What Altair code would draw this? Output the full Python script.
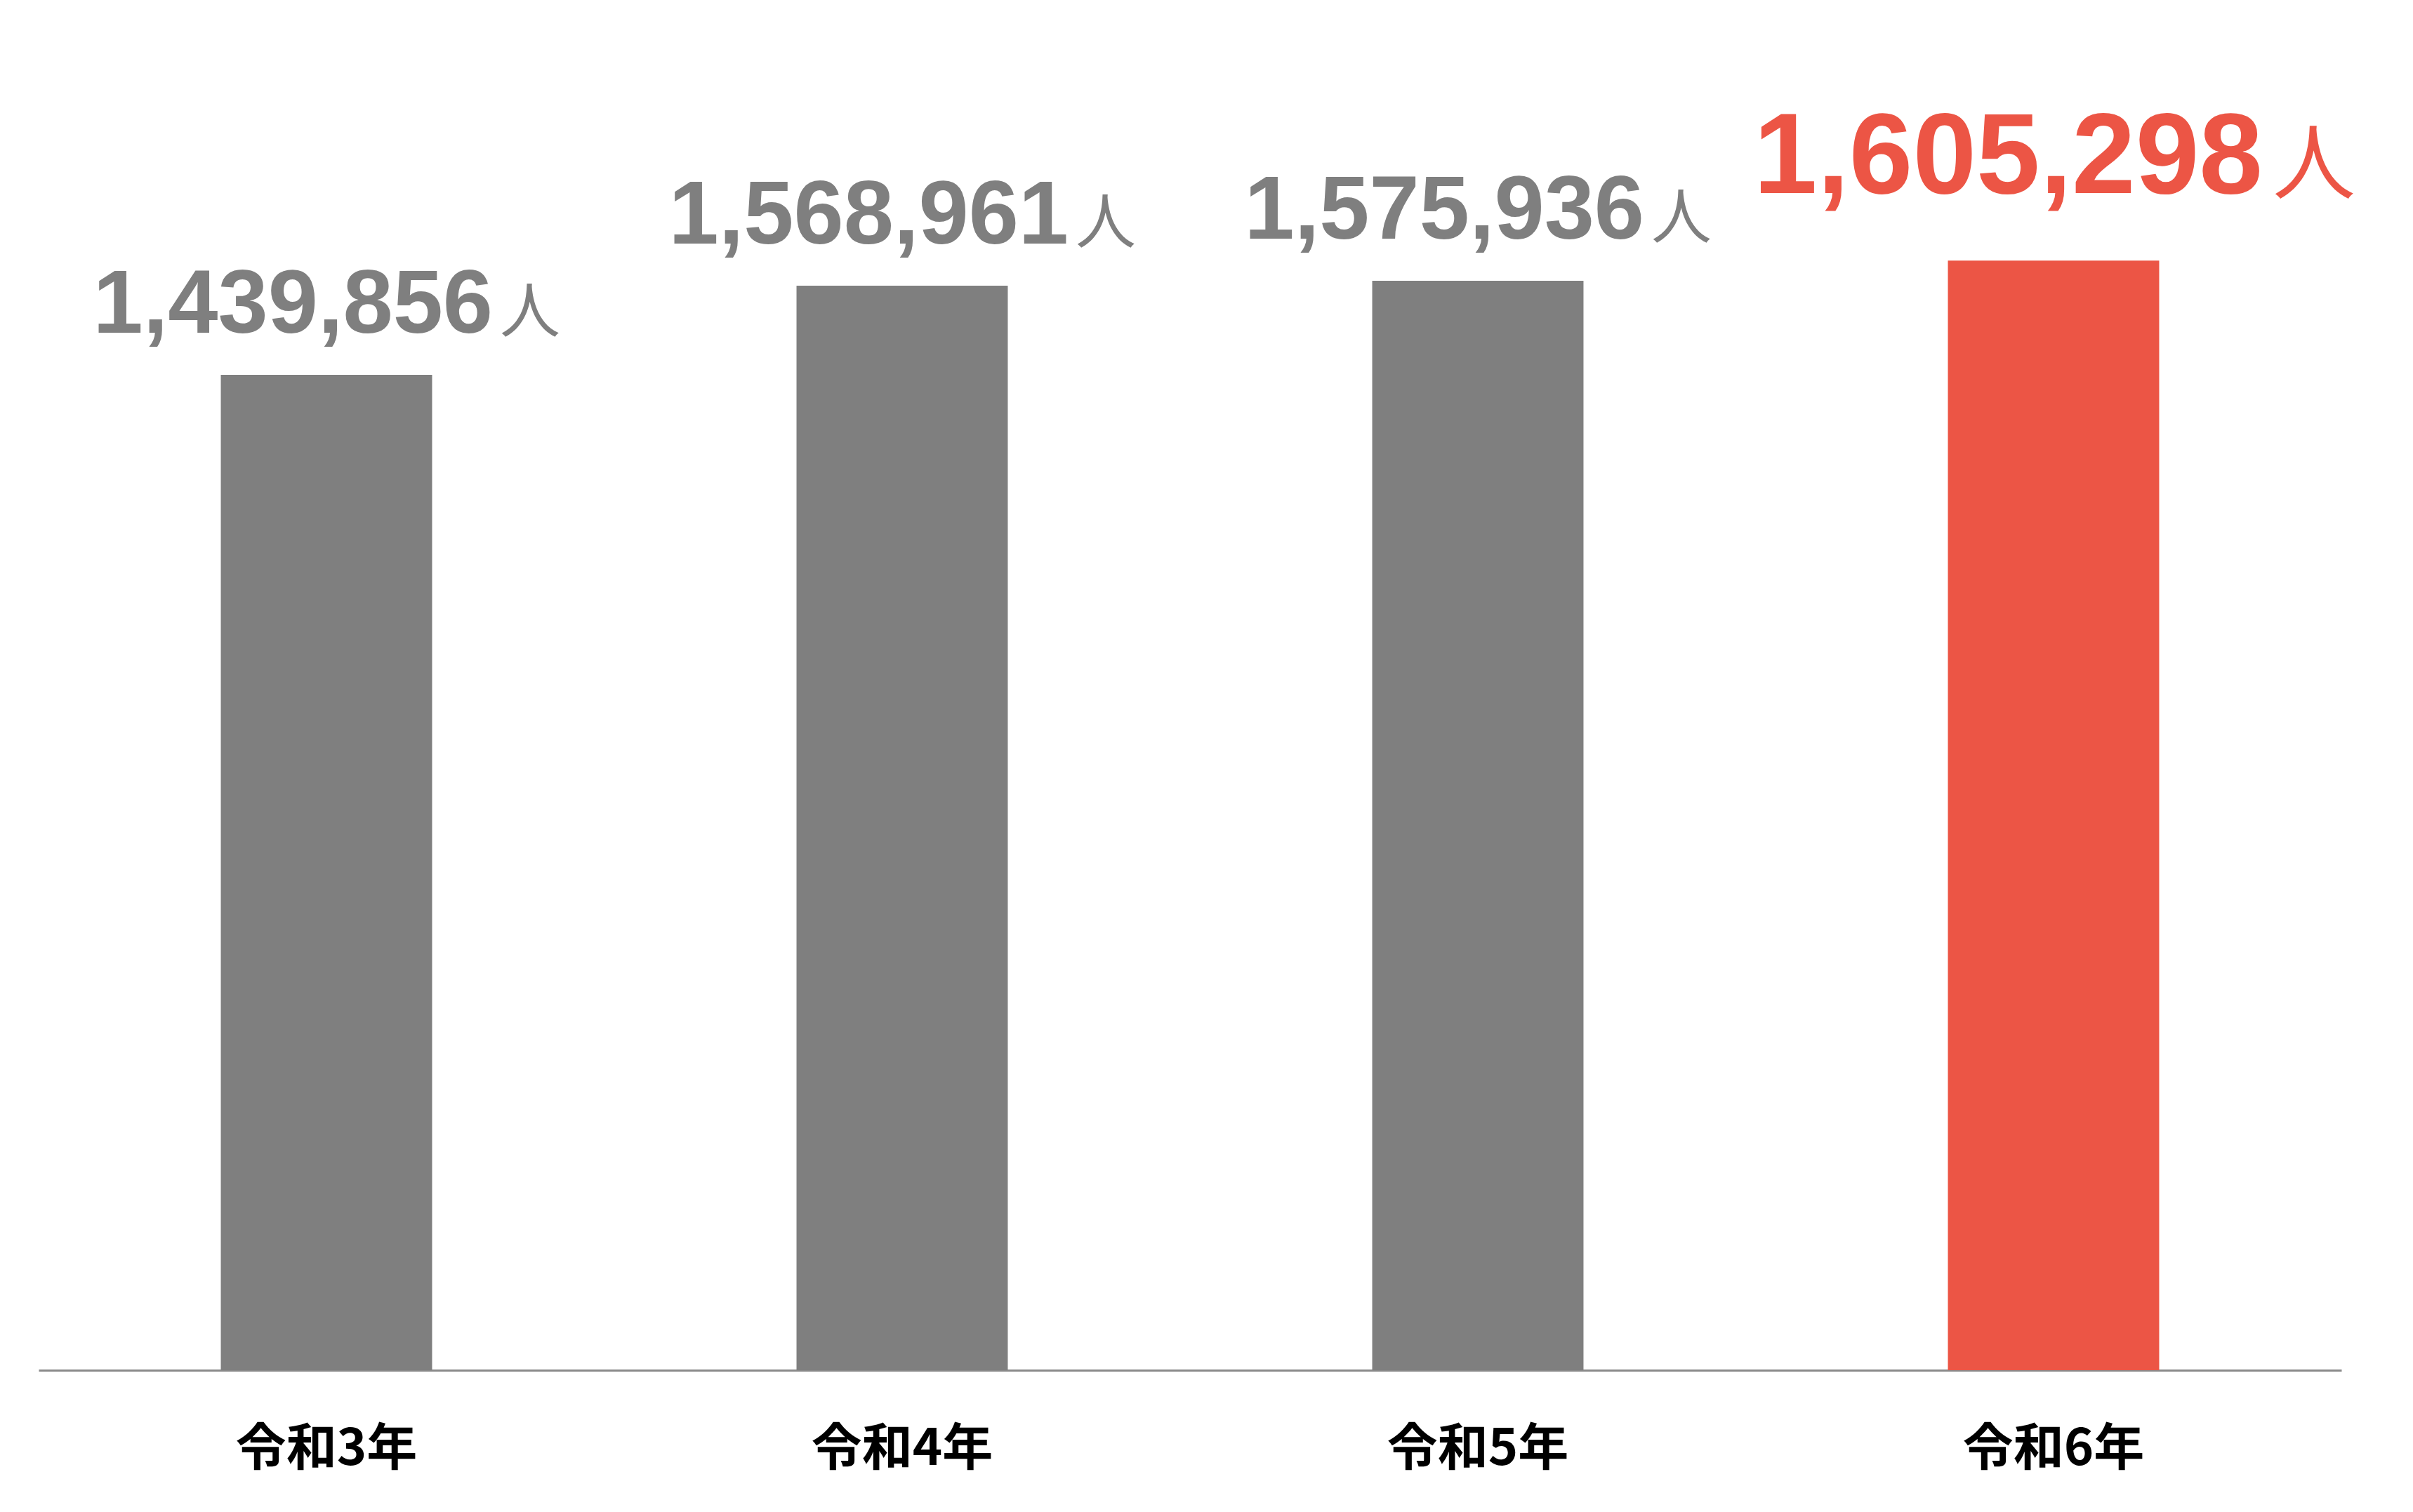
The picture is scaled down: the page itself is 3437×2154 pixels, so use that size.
import altair as alt
import pandas as pd

years = ["令和3年", "令和4年", "令和5年", "令和6年"]
values = [1439856, 1568961, 1575936, 1605298]
highlight = [False, False, False, True]

GRAY = "#7f7f7f"
RED = "#EC5545"

df = pd.DataFrame({"year": years, "value": values, "hl": highlight})

x = alt.X("year:N", sort=years,
          scale=alt.Scale(paddingInner=0.633, paddingOuter=0.3165),
          axis=alt.Axis(title=None, labelAngle=0, ticks=False, grid=False,
                        domainColor="#8a8a8a", domainWidth=3,
                        labelFont="Noto Sans CJK JP", labelFontWeight="bold",
                        labelFontSize=72, labelColor="#000000", labelPadding=77,
                        labelLimit=0))
y = alt.Y("value:Q", scale=alt.Scale(domain=[0, 1900000]), axis=None)

base = alt.Chart(df).encode(x=x, y=y)

bars = base.mark_bar().encode(
    color=alt.Color("hl:N", scale=alt.Scale(domain=[False, True], range=[GRAY, RED]), legend=None)
)

gray = base.transform_filter("!datum.hl")
red = base.transform_filter("datum.hl")

gray_num = gray.mark_text(font="Liberation Sans", fontWeight="bold", fontSize=128,
                          color=GRAY, align="right", baseline="alphabetic",
                          dx=237, dy=-60).encode(text=alt.Text("value:Q", format=","))
gray_nin = gray.mark_text(font="Noto Sans CJK JP", fontWeight="normal", fontSize=86,
                          color=GRAY, align="left", baseline="alphabetic",
                          dx=247, dy=-60, text="人")
red_num = red.mark_text(font="Liberation Sans", fontWeight="bold", fontSize=163,
                        color=RED, align="right", baseline="alphabetic",
                        dx=298, dy=-96).encode(text=alt.Text("value:Q", format=","))
red_nin = red.mark_text(font="Noto Sans CJK JP", fontWeight="normal", fontSize=118,
                        color=RED, align="left", baseline="alphabetic",
                        dx=312, dy=-96, text="人")

chart = alt.layer(bars, gray_num, gray_nin, red_num, red_nin).properties(
    width=3280, height=1871,
    autosize=alt.AutoSizeParams(type="none"),
    padding={"left": 47, "top": 73, "right": 80, "bottom": 180},
    background="#ffffff",
).configure_view(stroke=None)

chart.save("out.html", embed_options={"renderer": "svg", "actions": False})
